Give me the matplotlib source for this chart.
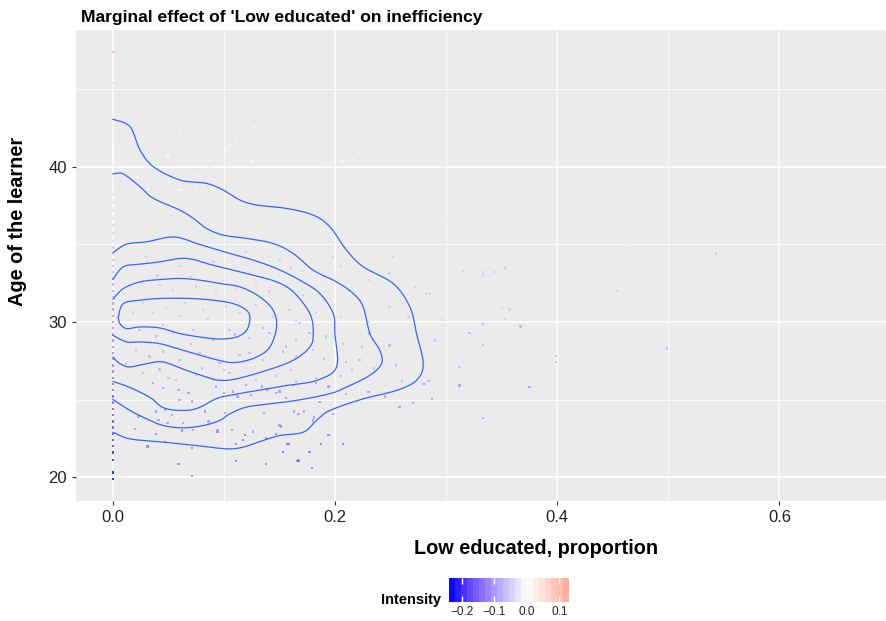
import numpy as np
import matplotlib
matplotlib.use("Agg")
import matplotlib.pyplot as plt
import matplotlib.cm as cm
from matplotlib.colors import LinearSegmentedColormap, Normalize

plt.rcParams['font.family'] = ['Liberation Sans', 'DejaVu Sans']

# --- data ------------------------------------------------------------------
# learners with zero share of low educated (x = 0): age, intensity
col_age = [47.4, 45.4, 43.9, 42.6, 42.2, 41.7, 41.3, 40.9, 40.5, 40.1, 39.6, 39.2,
           38.7, 38.2, 37.7, 37.2, 36.7, 36.2, 35.7, 35.2, 34.8, 34.4, 34.0, 33.6,
           33.2, 32.8, 32.4, 32.0, 31.6, 31.2, 30.8, 30.4, 30.0, 29.6, 29.2, 28.8,
           28.4, 28.0, 27.6, 27.2, 26.8, 26.4, 26.0, 25.6, 25.2, 24.8, 24.4, 24.0,
           23.6, 23.2, 22.8, 22.4, 22.0, 21.6, 21.1, 20.3, 19.9]
col_val = [0.12, 0.06, 0.03, 0.02, 0.01, 0.01, 0.0, 0.0, 0.0, -0.01, -0.01, -0.02,
           -0.02, -0.03, -0.03, -0.04, -0.04, -0.05, -0.05, -0.06, -0.06, -0.07, -0.07, -0.08,
           -0.08, -0.08, -0.09, -0.09, -0.09, -0.10, -0.10, -0.10, -0.11, -0.11, -0.11, -0.12,
           -0.12, -0.12, -0.13, -0.13, -0.14, -0.14, -0.15, -0.15, -0.16, -0.16, -0.17, -0.17,
           -0.18, -0.18, -0.19, -0.19, -0.20, -0.22, -0.22, -0.24, -0.24]

# other learners, grouped by colour band (proportion, age)
pts_red = [(0.126, 44.2), (0.665, 43.0)]
pts_pale = [(0.084, 42.97), (0.093, 43.05), (0.060, 42.37), (0.127, 42.58), (0.110, 41.40),
            (0.076, 41.08), (0.102, 41.12), (0.049, 40.65), (0.087, 40.37), (0.090, 40.04),
            (0.125, 40.30), (0.190, 40.04), (0.206, 40.37), (0.222, 40.92), (0.167, 39.18),
            (0.059, 38.49), (0.026, 39.25), (0.071, 39.46), (0.077, 39.40), (0.030, 38.49),
            (0.138, 42.1), (0.111, 41.8), (0.105, 41.4), (0.050, 40.7), (0.124, 40.3),
            (0.207, 40.4), (0.062, 39.7), (0.142, 38.3), (0.074, 38.6), (0.060, 38.5),
            (0.028, 39.8), (0.032, 38.6)]
pts_light = [(0.143, 38.28), (0.156, 37.96), (0.024, 37.85), (0.120, 37.42), (0.185, 37.10),
             (0.213, 37.35), (0.203, 35.16), (0.180, 35.38), (0.009, 37.38), (0.096, 36.02),
             (0.137, 36.13), (0.165, 36.13), (0.069, 36.77), (0.045, 36.67), (0.158, 37.9),
             (0.166, 39.2), (0.095, 38.1), (0.069, 37.8), (0.214, 37.4), (0.135, 36.1),
             (0.105, 36.1), (0.086, 36.6), (0.050, 36.6), (0.045, 37.2), (0.057, 35.8),
             (0.137, 35.2), (0.333, 35.7), (0.333, 35.5), (0.374, 35.3), (0.461, 35.0),
             (0.499, 35.1), (0.277, 34.6), (0.444, 36.8), (0.222, 36.2), (0.240, 35.9),
             (0.300, 36.6), (0.180, 36.4)]
pts_mid = [(0.026, 32.49), (0.042, 32.38), (0.054, 32.06), (0.075, 32.28), (0.093, 31.85),
           (0.111, 32.17), (0.129, 32.49), (0.141, 31.96), (0.156, 32.28), (0.171, 31.74),
           (0.027, 31.21), (0.036, 30.57), (0.048, 30.89), (0.065, 31.21), (0.081, 30.78),
           (0.102, 31.00), (0.114, 30.57), (0.129, 31.10), (0.144, 30.35), (0.159, 30.78),
           (0.183, 30.57), (0.198, 34.19), (0.249, 33.12), (0.252, 34.19), (0.282, 31.83),
           (0.296, 30.11), (0.249, 30.97), (0.222, 31.40), (0.213, 32.04), (0.266, 30.32),
           (0.272, 32.26), (0.315, 33.3), (0.333, 33.2), (0.344, 33.2), (0.353, 33.5),
           (0.333, 33.0), (0.454, 32.0), (0.285, 31.8), (0.350, 30.9), (0.357, 30.8),
           (0.353, 30.2), (0.543, 34.4), (0.030, 34.2), (0.060, 33.6), (0.090, 33.9),
           (0.120, 34.5), (0.150, 34.0), (0.170, 33.3), (0.190, 32.9), (0.205, 33.6),
           (0.230, 32.7), (0.040, 33.0), (0.070, 32.9), (0.100, 32.7), (0.135, 32.9),
           (0.160, 33.5), (0.010, 31.8), (0.018, 30.6), (0.060, 30.4), (0.085, 30.2),
           (0.165, 30.1), (0.190, 31.4), (0.205, 30.3), (0.230, 30.0), (0.260, 31.2)]
pts_dark = [(0.168, 29.92), (0.024, 29.50), (0.039, 29.07), (0.054, 29.28), (0.072, 29.50),
            (0.090, 28.85), (0.105, 29.50), (0.123, 28.96), (0.141, 29.28), (0.156, 28.42),
            (0.165, 28.85), (0.177, 29.28), (0.192, 29.07), (0.021, 28.21), (0.033, 27.78),
            (0.045, 28.10), (0.060, 27.57), (0.078, 28.00), (0.096, 27.35), (0.114, 27.89),
            (0.123, 28.00), (0.135, 27.57), (0.153, 28.10), (0.165, 27.78), (0.180, 28.21),
            (0.027, 26.71), (0.042, 26.93), (0.057, 26.28), (0.075, 26.60), (0.090, 26.28),
            (0.105, 26.71), (0.129, 26.28), (0.147, 26.50), (0.165, 26.17), (0.183, 26.39),
            (0.249, 28.49), (0.224, 28.39), (0.222, 27.53), (0.207, 28.60), (0.231, 29.25),
            (0.333, 29.9), (0.367, 29.7), (0.321, 29.3), (0.333, 28.5), (0.499, 28.3),
            (0.399, 27.8), (0.399, 27.4), (0.312, 27.1), (0.279, 26.02), (0.205, 26.5),
            (0.215, 26.9), (0.235, 27.0), (0.255, 27.2), (0.210, 27.4), (0.260, 26.2),
            (0.290, 28.8), (0.284, 26.2), (0.281, 26.0), (0.045, 29.8), (0.110, 29.2),
            (0.135, 29.6), (0.080, 27.0), (0.100, 26.9), (0.160, 26.9), (0.190, 27.6),
            (0.200, 29.6), (0.012, 27.3), (0.050, 26.4), (0.070, 28.6)]
pts_deep = [(0.036, 26.05), (0.045, 25.73), (0.059, 25.62), (0.068, 25.41), (0.060, 24.98),
            (0.071, 24.87), (0.093, 25.84), (0.100, 25.41), (0.108, 25.52), (0.120, 25.95),
            (0.134, 25.84), (0.150, 25.52), (0.163, 25.95), (0.183, 26.05), (0.194, 25.84),
            (0.039, 24.23), (0.047, 24.34), (0.053, 24.02), (0.083, 24.23), (0.101, 24.12),
            (0.086, 23.59), (0.063, 23.48), (0.041, 23.70), (0.023, 23.91), (0.049, 23.48),
            (0.072, 23.05), (0.094, 23.05), (0.107, 23.05), (0.126, 22.94), (0.136, 24.12),
            (0.151, 23.27), (0.163, 24.23), (0.172, 24.23), (0.181, 23.84), (0.112, 25.20),
            (0.124, 25.30), (0.139, 25.62), (0.147, 25.41), (0.156, 25.09), (0.180, 23.66),
            (0.198, 24.09), (0.167, 24.09), (0.150, 23.33), (0.186, 24.84), (0.210, 25.38),
            (0.230, 25.5), (0.245, 25.2), (0.270, 24.8), (0.312, 25.9), (0.287, 25.05),
            (0.258, 24.52), (0.375, 25.8), (0.333, 23.8), (0.020, 23.1)]
pts_blue = [(0.119, 22.73), (0.194, 22.73), (0.039, 22.8), (0.062, 23.0), (0.031, 21.98),
            (0.047, 22.26), (0.071, 21.89), (0.111, 22.13), (0.117, 22.40), (0.157, 22.13),
            (0.187, 22.13), (0.153, 21.62), (0.177, 21.62), (0.059, 20.87), (0.111, 21.04),
            (0.138, 20.87), (0.166, 21.04), (0.179, 20.61), (0.071, 20.07), (0.167, 21.08),
            (0.158, 22.15), (0.207, 22.15), (0.138, 22.5), (0.147, 22.8), (0.094, 22.9)]
band_pts = [pts_red, pts_pale, pts_light, pts_mid, pts_dark, pts_deep, pts_blue]
band_val = [0.05, 0.0, -0.03, -0.07, -0.10, -0.14, -0.18]

# density contour lines, outermost first (proportion, age)
contours = [
    [(0, 43.05), (0.0153, 42.58), (0.0243, 41.08), (0.0363, 40.0), (0.0603, 39.14),
     (0.0843, 38.92), (0.0993, 38.49), (0.1143, 37.85), (0.1293, 37.53), (0.1563, 37.31),
     (0.1803, 36.88), (0.1953, 36.13), (0.2103, 34.62), (0.2253, 33.55), (0.2523, 32.47),
     (0.2673, 30.97), (0.2733, 29.25), (0.2793, 27.31), (0.2733, 26.24), (0.2553, 25.59),
     (0.2253, 25.05), (0.1953, 24.30), (0.1833, 23.66), (0.1713, 22.90), (0.1503, 22.69),
     (0.1353, 22.37), (0.1173, 21.94), (0.1023, 21.83), (0.0753, 22.04), (0.0453, 22.26),
     (0.0153, 22.47), (0, 22.90)],
    [(0, 39.53), (0.0093, 39.53), (0.0243, 38.71), (0.0363, 37.96), (0.0603, 37.20),
     (0.0723, 36.67), (0.0843, 36.02), (0.0993, 35.59), (0.1203, 35.38), (0.1443, 35.05),
     (0.1623, 34.41), (0.1803, 33.33), (0.2013, 32.58), (0.2163, 31.83), (0.2253, 30.97),
     (0.2313, 29.25), (0.2403, 28.17), (0.2418, 27.31), (0.2313, 26.56), (0.2103, 25.81),
     (0.1953, 25.38), (0.1653, 24.95), (0.1413, 24.73), (0.1203, 24.52), (0.1053, 24.09),
     (0.0963, 23.66), (0.0813, 23.33), (0.0633, 23.18), (0.0453, 23.33), (0.0303, 23.76),
     (0.0153, 24.30), (0, 25.01)],
    [(0, 34.47), (0.0123, 35.01), (0.0303, 35.16), (0.0483, 35.44), (0.0603, 35.42),
     (0.0753, 35.05), (0.0903, 34.73), (0.1053, 34.41), (0.1263, 33.98), (0.1473, 33.44),
     (0.1683, 32.69), (0.1863, 31.83), (0.1983, 30.54), (0.1998, 29.25), (0.2013, 27.10),
     (0.1836, 26.24), (0.1566, 25.91), (0.1296, 25.59), (0.1053, 25.27), (0.0936, 25.08),
     (0.0756, 24.43), (0.0603, 24.30), (0.0450, 24.49), (0.0333, 25.14), (0.0153, 25.78),
     (0, 26.17)],
    [(0, 32.75), (0.0093, 33.55), (0.0243, 33.72), (0.0423, 33.87), (0.0603, 34.09),
     (0.0723, 34.02), (0.0843, 33.76), (0.1023, 33.44), (0.1263, 33.01), (0.1473, 32.58),
     (0.1623, 31.94), (0.1773, 30.54), (0.1803, 29.25), (0.1773, 28.39), (0.1623, 27.53),
     (0.1383, 26.88), (0.1113, 26.34), (0.0963, 26.24), (0.0843, 26.45), (0.0663, 26.88),
     (0.0453, 27.42), (0.0303, 27.31), (0.0153, 27.10), (0.0063, 27.31), (0, 27.74)],
    [(0, 31.46), (0.0093, 32.15), (0.0243, 32.58), (0.0423, 32.73), (0.0603, 32.80),
     (0.0783, 32.69), (0.0963, 32.47), (0.1143, 32.26), (0.1323, 31.61), (0.1443, 30.75),
     (0.1473, 29.68), (0.1413, 28.39), (0.1293, 27.74), (0.1143, 27.42), (0.1023, 27.42),
     (0.0843, 27.74), (0.0633, 28.17), (0.0423, 28.60), (0.0243, 28.71), (0.0123, 28.71),
     (0, 29.14)],
    [(0.0048, 30.32), (0.0093, 31.18), (0.0243, 31.40), (0.0423, 31.51), (0.0693, 31.51),
     (0.0903, 31.40), (0.1083, 31.18), (0.1203, 30.75), (0.1233, 30.22), (0.1203, 29.46),
     (0.1113, 29.03), (0.0963, 28.90), (0.0783, 29.03), (0.0603, 29.25), (0.0423, 29.61),
     (0.0243, 29.68), (0.0123, 29.57), (0.0063, 29.89), (0.0048, 30.32)],
]

x_ticks = [0.0, 0.2, 0.4, 0.6]
y_ticks = [20, 30, 40]
bar_ticks = [-0.2, -0.1, 0.0, 0.1]


def smooth_path(pts, n=10):
    # catmull-rom curve through the traced vertices, only to draw them round
    p = np.asarray(pts, dtype=float)
    p = np.vstack([p[0], p, p[-1]])
    out = []
    for i in range(1, len(p) - 2):
        p0, p1, p2, p3 = p[i - 1], p[i], p[i + 1], p[i + 2]
        for t in np.linspace(0, 1, n, endpoint=False):
            t2, t3 = t * t, t * t * t
            out.append(0.5 * ((2 * p1) + (-p0 + p2) * t +
                              (2 * p0 - 5 * p1 + 4 * p2 - p3) * t2 +
                              (-p0 + 3 * p1 - 3 * p2 + p3) * t3))
    out.append(p[-2])
    return np.array(out)


# blue - white - red, centred on zero
cmap = LinearSegmentedColormap.from_list('b2r', [
    (0.0, '#0000FF'), (0.125, '#6242FF'), (0.25, '#9C84FF'), (0.375, '#CEC3FF'),
    (0.5, '#FFFFFF'), (0.625, '#FFD9CF'), (0.75, '#FFB19E'), (0.875, '#FF8263'),
    (1.0, '#FF0000')])
norm = Normalize(vmin=-0.24, vmax=0.24)

fig = plt.figure(figsize=(8.87, 6.21), dpi=100)
ax = fig.add_axes([76 / 887, 120 / 621, 810 / 887, 471 / 621])
ax.set_facecolor('#EBEBEB')
ax.set_xlim(-0.0333, 0.696)
ax.set_ylim(18.47, 48.8)

ax.set_xticks(x_ticks)
ax.set_xticks([0.1, 0.3, 0.5], minor=True)
ax.set_yticks(y_ticks)
ax.set_yticks([25, 35, 45], minor=True)
ax.grid(which='major', color='white', lw=1.1)
ax.grid(which='minor', color='white', lw=0.55)
ax.set_axisbelow(True)
for s in ax.spines.values():
    s.set_visible(False)
ax.tick_params(which='major', length=3, width=0.8, color='#333333',
               labelsize=12, labelcolor='#222222', pad=3.5)
ax.tick_params(which='minor', length=0)

# points
for pts, v in zip(band_pts, band_val):
    p = np.array(pts)
    ax.scatter(p[:, 0], p[:, 1], c=[v] * len(p), cmap=cmap, norm=norm,
               s=2.8, marker='s', linewidths=0, alpha=0.55, zorder=2)
ax.scatter(np.zeros(len(col_age)), col_age, c=col_val, cmap=cmap, norm=norm,
           s=3.0, marker='s', linewidths=0, alpha=0.8, zorder=2)

# density contours
for line in contours:
    c = smooth_path(line)
    ax.plot(c[:, 0], c[:, 1], color='#3366FF', lw=0.9,
            solid_joinstyle='round', zorder=3)

# titles
fig.text(81 / 887, 1 - 22 / 621, "Marginal effect of 'Low educated' on inefficiency",
         fontsize=12.6, fontweight='bold', ha='left', va='baseline')
fig.text(536 / 887, 1 - 548 / 621, 'Low educated, proportion',
         fontsize=14.3, fontweight='bold', ha='center', va='center')
fig.text(18 / 887, 1 - 221 / 621, 'Age of the learner', rotation=90,
         fontsize=14.3, fontweight='bold', ha='center', va='center')

# colour bar legend
cax = fig.add_axes([449 / 887, 1 - 602 / 621, 120 / 887, 24 / 621])
sm = cm.ScalarMappable(norm=norm, cmap=cmap)
cb = fig.colorbar(sm, cax=cax, orientation='horizontal',
                  boundaries=np.linspace(-0.24, 0.13, 21), ticks=bar_ticks)
cb.outline.set_visible(False)
cax.tick_params(direction='in', length=4.5, width=1, color='white',
                top=True, bottom=True, labelsize=8.5, labelcolor='#222222', pad=3)
cax.set_xticklabels(['\u22120.2', '\u22120.1', '0.0', '0.1'])
fig.text(441 / 887, 1 - 600 / 621, 'Intensity', fontsize=10.5,
         fontweight='bold', ha='right', va='center')

fig.savefig('out.png', dpi=100)
